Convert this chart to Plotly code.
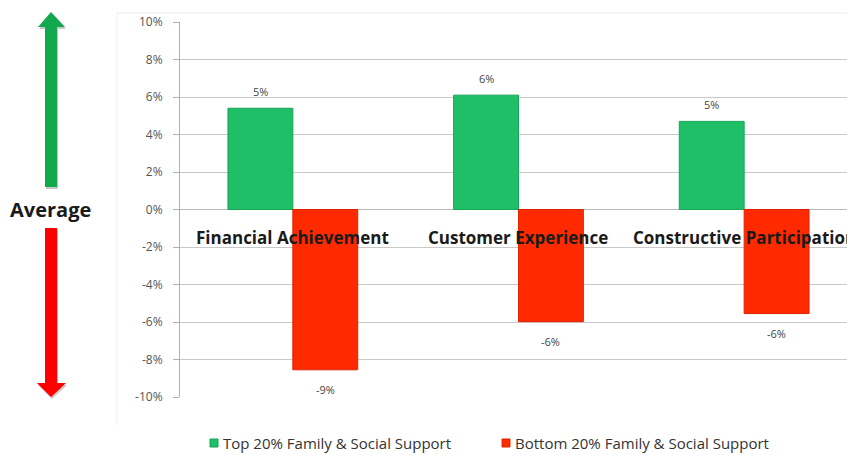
import plotly.graph_objects as go

# Category names and the two support groups (values as fractions of 1)
categories = ["Financial Achievement", "Customer Experience", "Constructive Participation"]
top_label = "Top 20% Family & Social Support"
bottom_label = "Bottom 20% Family & Social Support"
top_values = [0.054, 0.061, 0.047]
bottom_values = [-0.0855, -0.0598, -0.0555]
y_ticks = [-0.10, -0.08, -0.06, -0.04, -0.02, 0.0, 0.02, 0.04, 0.06, 0.08, 0.10]
y_ticktext = [f"{v:.0%}" for v in y_ticks]

TOP_COLOR, TOP_EDGE = "#1fbf68", "#17a358"
BOTTOM_COLOR, BOTTOM_EDGE = "#ff2a00", "#e02400"
BARGAP = 0.425

W, H = 847, 455
L, T, B = 180, 22, 58
PW, PH = W - L, H - T - B


def px(x):
    return (x - L) / PW


def py(y):
    return 1 - (y - T) / PH


def arrow_path(points):
    return "M " + " L ".join(f"{px(x)},{py(y)}" for x, y in points) + " Z"


def shifted(points, dx, dy):
    return [(x + dx, y + dy) for x, y in points]


up_arrow = [(51, 12), (65, 27), (57, 27), (57, 187), (45, 187), (45, 27), (38, 27)]
down_arrow = [(51, 397), (66, 383), (57, 383), (57, 228), (45, 228), (45, 383), (37, 383)]

fig = go.Figure()
fig.add_bar(
    x=categories, y=top_values, name=top_label,
    marker=dict(color=TOP_COLOR, line=dict(color=TOP_EDGE, width=1)),
)
fig.add_bar(
    x=categories, y=bottom_values, name=bottom_label,
    marker=dict(color=BOTTOM_COLOR, line=dict(color=BOTTOM_EDGE, width=1)),
)

shapes = [
    # faint chart frame
    dict(type="line", xref="paper", yref="paper", x0=px(117), x1=px(W), y0=py(13), y1=py(13),
         line=dict(color="#ececec", width=1)),
    dict(type="line", xref="paper", yref="paper", x0=px(117), x1=px(117), y0=py(13), y1=py(425),
         line=dict(color="#f0f0f0", width=1)),
    # "above / below average" arrows with soft shadows
    dict(type="path", xref="paper", yref="paper", path=arrow_path(shifted(up_arrow, 1, 2)),
         fillcolor="rgba(0,0,0,0.22)", line=dict(width=0), layer="below"),
    dict(type="path", xref="paper", yref="paper", path=arrow_path(up_arrow),
         fillcolor="#12a84e", line=dict(width=0)),
    dict(type="path", xref="paper", yref="paper", path=arrow_path(shifted(down_arrow, 1, 2)),
         fillcolor="rgba(0,0,0,0.22)", line=dict(width=0), layer="below"),
    dict(type="path", xref="paper", yref="paper", path=arrow_path(down_arrow),
         fillcolor="#ff0000", line=dict(width=0)),
]

annotations = []

# value labels above the top bars and below the bottom bars
bar_w = (1 - BARGAP) / 2
for i in range(len(categories)):
    for offset, value, shift in ((-bar_w / 2, top_values[i], 17), (bar_w / 2, bottom_values[i], -20)):
        annotations.append(dict(x=i + offset, y=value, xref="x", yref="y",
                                text=f"{value:.0%}", showarrow=False, yshift=shift,
                                xanchor="center", yanchor="middle",
                                font=dict(size=11, color="#444444")))

annotations += [
    dict(x=c, y=0, xref="x", yref="y", text=f"<b>{c}</b>", showarrow=False,
         xanchor="center", yshift=-28,
         font=dict(family="Open Sans", size=17, color="#1a1a1a"))
    for c in categories
]
annotations.append(
    dict(x=px(50), y=0, xref="paper", yref="y", text="<b>Average</b>", showarrow=False,
         xanchor="center", yanchor="middle",
         font=dict(family="Open Sans", size=20, color="#1a1a1a"))
)

# legend entries: small coloured square followed by the series name
legend_items = [(210, top_label, TOP_COLOR, TOP_EDGE), (502, bottom_label, BOTTOM_COLOR, BOTTOM_EDGE)]
for x0, label, color, edge in legend_items:
    shapes.append(dict(type="rect", xref="paper", yref="paper",
                       x0=px(x0), x1=px(x0 + 8), y0=py(447), y1=py(439),
                       fillcolor=color, line=dict(color=edge, width=1)))
    annotations.append(dict(x=px(x0 + 11), y=py(443), xref="paper", yref="paper",
                            text=label, showarrow=False, xanchor="left", yanchor="middle",
                            font=dict(family="Open Sans", size=15, color="#333333")))

fig.update_layout(
    width=W, height=H,
    margin=dict(l=L, r=0, t=T, b=B),
    paper_bgcolor="white", plot_bgcolor="white",
    barmode="group", bargap=BARGAP, bargroupgap=0,
    showlegend=False,
    font=dict(family="Open Sans", size=12, color="#555555"),
    xaxis=dict(range=[-0.5, 2.5 - 10 / 226], showticklabels=False, showgrid=False,
               zeroline=False, showline=False, ticks=""),
    yaxis=dict(range=[-0.10, 0.10], tickvals=y_ticks, ticktext=y_ticktext,
               showgrid=True, gridcolor="#c8c8c8", gridwidth=1,
               zeroline=True, zerolinecolor="#b8b8b8", zerolinewidth=1,
               showline=True, linecolor="#b0b0b0", ticks="outside", ticklen=6,
               tickcolor="#b0b0b0", ticklabelstandoff=8,
               tickfont=dict(size=12, color="#555555")),
    shapes=shapes,
    annotations=annotations,
)

fig.write_html("out.html")
